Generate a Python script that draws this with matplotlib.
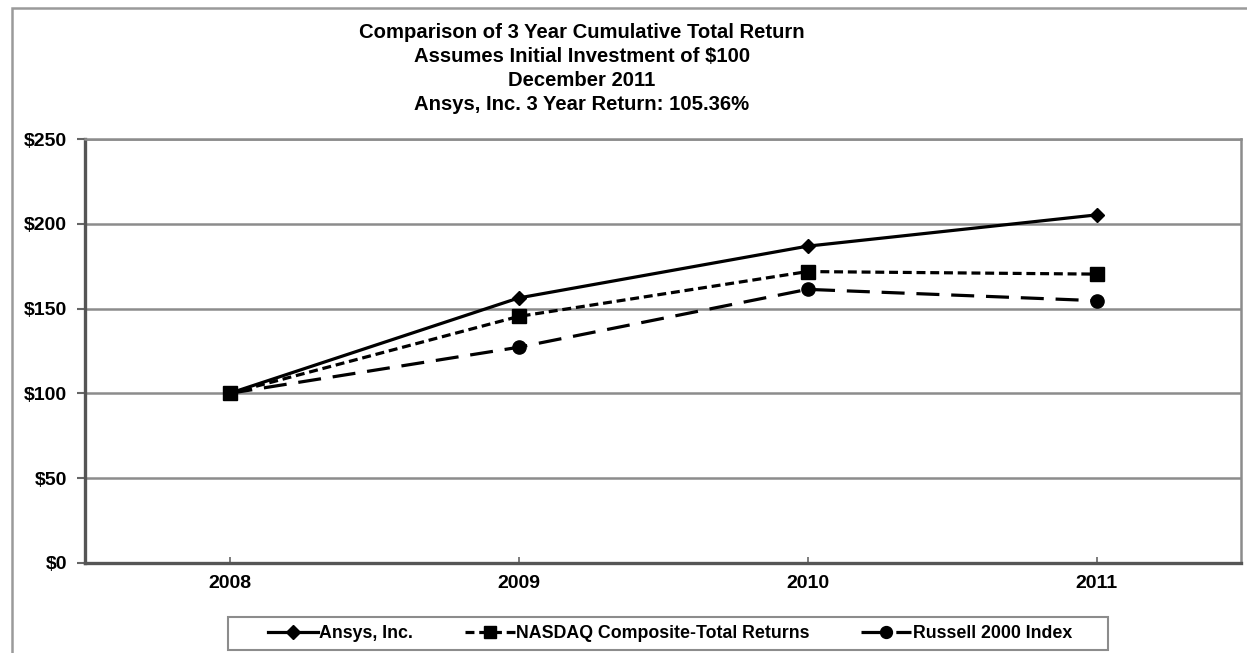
import matplotlib
matplotlib.use("Agg")
import matplotlib.pyplot as plt
from matplotlib.patches import Rectangle
from matplotlib.lines import Line2D

years = ["2008", "2009", "2010", "2011"]
ansys = [100.0, 156.3, 186.9, 205.36]
nasdaq = [100.0, 145.4, 171.9, 170.4]
russell = [100.0, 127.2, 161.4, 154.7]
series_names = ["Ansys, Inc.", "NASDAQ Composite-Total Returns", "Russell 2000 Index"]
yticks = [0, 50, 100, 150, 200, 250]
title_lines = ["Comparison of 3 Year Cumulative Total Return",
               "Assumes Initial Investment of $100",
               "December 2011",
               "Ansys, Inc. 3 Year Return: 105.36%"]

plt.rcParams['font.family'] = ['Liberation Sans', 'DejaVu Sans']
plt.rcParams['font.weight'] = 'bold'

W, H = 1247, 653
fig = plt.figure(figsize=(W / 100, H / 100), dpi=100)

# outer frame
fig.patches.append(Rectangle((12 / W, -0.05), 1.2, 1 - 8 / H + 0.05,
                             transform=fig.transFigure, fill=False,
                             edgecolor="#9a9a9a", linewidth=1.8))

ax = fig.add_axes([85 / W, 1 - 562.7 / H, (1241 - 85) / W, (562.7 - 139.3) / H])
x = list(range(len(years)))

lw = 2.3
l1, = ax.plot(x, ansys, color="black", lw=lw, marker="D", ms=7.5, zorder=5,
              label=series_names[0])
l2, = ax.plot(x, nasdaq, color="black", lw=lw, marker="s", ms=9.5, zorder=4,
              label=series_names[1])
l2.set_dashes([2.8, 1.5])
l3, = ax.plot(x, russell, color="black", lw=lw, marker="o", ms=9.5, zorder=3,
              label=series_names[2])
l3.set_dashes([7.2, 3.7])

ax.set_xlim(-0.5, len(years) - 0.5)
ax.set_ylim(0, 250)
ax.set_yticks(yticks)
ax.set_yticklabels(["$%d" % v for v in yticks])
ax.set_xticks(x)
ax.set_xticklabels(years)
ax.grid(axis="y", color="#8c8c8c", lw=1.8, zorder=0)
ax.set_axisbelow(True)

for s in ["top", "right"]:
    ax.spines[s].set_color("#8c8c8c")
    ax.spines[s].set_linewidth(1.8)
for s in ["left", "bottom"]:
    ax.spines[s].set_color("#555555")
    ax.spines[s].set_linewidth(2.4)

ax.tick_params(axis="y", direction="out", length=6, width=1.5, color="#666666",
               labelsize=14, pad=7)
ax.tick_params(axis="x", direction="in", length=4, width=1.2, color="#666666",
               labelsize=14, pad=9)
for t in ax.get_xticklabels() + ax.get_yticklabels():
    t.set_fontweight("bold")

# title
ys = [32, 56, 80, 104]
for line, yy in zip(title_lines, ys):
    fig.text(582 / W, 1 - yy / H, line, ha="center", va="center",
             fontsize=14.6, fontweight="bold")

# legend box
fig.patches.append(Rectangle((228 / W, 1 - 650 / H), (1108 - 228) / W, 33 / H,
                             transform=fig.transFigure, fill=False,
                             edgecolor="#8c8c8c", linewidth=1.5))
leg = fig.legend(handles=[l1, l2, l3], loc="center", ncol=3,
                 bbox_to_anchor=(670 / W, 1 - 633.5 / H),
                 frameon=False, fontsize=12.8, handlelength=2.8,
                 handletextpad=0.1, columnspacing=2.9, borderpad=0.2,
                 markerscale=0.9)
for t in leg.get_texts():
    t.set_fontweight("bold")

fig.savefig("out.png", dpi=100)
